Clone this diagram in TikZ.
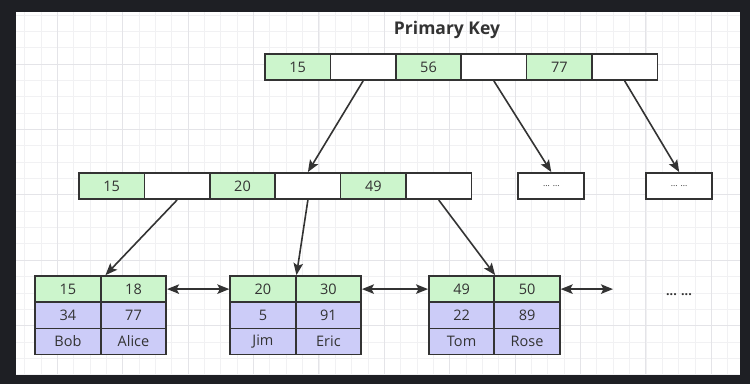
\documentclass[tikz,border=0pt]{standalone}
\usepackage{fontspec}
\setmainfont{Open Sans}
\usetikzlibrary{arrows.meta,calc}
\definecolor{framebg}{HTML}{1E1F24}
\definecolor{gridminor}{HTML}{F1F1F3}
\definecolor{gridmajor}{HTML}{E4E4E8}
\definecolor{keygreen}{HTML}{CCF5CC}
\definecolor{rowblue}{HTML}{CCCCF8}
\definecolor{ink}{HTML}{333333}
\tikzset{
  cellbox/.style={draw=ink, line width=1.7pt, minimum width=65.4pt, minimum height=26.2pt,
    inner sep=0pt, text=ink, font=\fontsize{14.5}{14.5}\selectfont, anchor=center},
  keycell/.style={cellbox, fill=keygreen},
  ptrcell/.style={cellbox, fill=white},
  rowcell/.style={cellbox, fill=rowblue},
  morebox/.style={cellbox, fill=white, minimum width=66pt, font=\fontsize{8.5}{8.5}\selectfont},
  link/.style={draw=ink, line width=1.6pt, -{Stealth[length=12pt, width=9.5pt, inset=2.5pt]}},
  twoway/.style={draw=ink, line width=1.6pt, {Stealth[length=12pt, width=9.5pt, inset=2.5pt]}-{Stealth[length=12pt, width=9.5pt, inset=2.5pt]}}
}
\begin{document}
\begin{tikzpicture}[x=1pt, y=-1pt]
\useasboundingbox (0,0) rectangle (750,384);
% dark surround and grid paper
\fill[framebg] (0,0) rectangle (750,384);
\fill[white] (16,12) rectangle (740,374);
\begin{scope}
  \clip (16,12) rectangle (740,374);
  \foreach \i in {-2,...,42} {
    \draw[gridminor, line width=0.8pt] ({57.3+16.35*\i},12) -- ({57.3+16.35*\i},374);
  }
  \foreach \j in {-3,...,19} {
    \draw[gridminor, line width=0.8pt] (16,{64+16.35*\j}) -- (740,{64+16.35*\j});
  }
  \foreach \i in {-1,...,11} {
    \draw[gridmajor, line width=0.9pt] ({57.3+65.4*\i},12) -- ({57.3+65.4*\i},374);
  }
  \foreach \j in {-1,...,5} {
    \draw[gridmajor, line width=0.9pt] (16,{64+65.4*\j}) -- (740,{64+65.4*\j});
  }
\end{scope}

% title
\node[text=ink, font=\fontsize{17.5}{17.5}\selectfont\bfseries] (title) at (447,30) {Primary Key};

% root page
\node[keycell] (r1) at (297.7,67) {15};
\node[ptrcell] (r2) at (363.1,67) {};
\node[keycell] (r3) at (428.5,67) {56};
\node[ptrcell] (r4) at (493.9,67) {};
\node[keycell] (r5) at (559.3,67) {77};
\node[ptrcell] (r6) at (624.7,67) {};

% internal page
\node[keycell] (m1) at (111.7,186) {15};
\node[ptrcell] (m2) at (177.1,186) {};
\node[keycell] (m3) at (242.5,186) {20};
\node[ptrcell] (m4) at (307.9,186) {};
\node[keycell] (m5) at (373.3,186) {49};
\node[ptrcell] (m6) at (438.7,186) {};

% elided pages
\node[morebox] (e1) at (551.3,186) {... ...};
\node[morebox] (e2) at (679.2,186) {... ...};

% leaf pages
\node[keycell] (a11) at (67.9,289.1) {15};
\node[keycell] (a12) at (133.5,289.1) {18};
\node[rowcell] (a21) at (67.9,315.3) {34};
\node[rowcell] (a22) at (133.5,315.3) {77};
\node[rowcell] (a31) at (67.9,341.5) {Bob};
\node[rowcell] (a32) at (133.5,341.5) {Alice};

\node[keycell] (b11) at (262.9,289.1) {20};
\node[keycell] (b12) at (328.4,289.1) {30};
\node[rowcell] (b21) at (262.9,315.3) {5};
\node[rowcell] (b22) at (328.4,315.3) {91};
\node[rowcell] (b31) at (262.9,341.5) {Jim};
\node[rowcell] (b32) at (328.4,341.5) {Eric};

\node[keycell] (c11) at (461.6,289.1) {49};
\node[keycell] (c12) at (527.1,289.1) {50};
\node[rowcell] (c21) at (461.6,315.3) {22};
\node[rowcell] (c22) at (527.1,315.3) {89};
\node[rowcell] (c31) at (461.6,341.5) {Tom};
\node[rowcell] (c32) at (527.1,341.5) {Rose};

\node[text=ink, font=\fontsize{12.5}{12.5}\selectfont\bfseries] (more) at (679,295) {... ...};
\coordinate (tail) at (613,289.1);

% child pointers
\draw[link] (r2.south) -- (m4.north);
\draw[link] (r4.south) -- (e1.north);
\draw[link] (r6.south) -- (e2.north);
\draw[link] (m2.south) -- ([xshift=4pt]a11.north east);
\draw[link] (m4.south) -- (b11.north east);
\draw[link] (m6.south) -- (c11.north east);

% sibling links between leaves
\draw[twoway] (a12.east) -- (b11.west);
\draw[twoway] (b12.east) -- (c11.west);
\draw[twoway] (c12.east) -- (tail);
\end{tikzpicture}
\end{document}
